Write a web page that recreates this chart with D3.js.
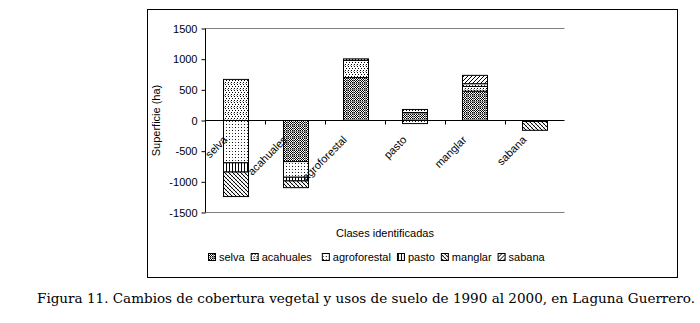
<!DOCTYPE html>
<html>
<head>
<meta charset="utf-8">
<script src="https://cdn.jsdelivr.net/npm/d3@7"></script>
<style>
  body { margin: 0; background: #fff; }
  svg { display: block; }
</style>
</head>
<body>
<div id="chart"></div>
<script>
// categories on the x axis and the stacked series (legend order)
const categories = ["selva", "acahuales", "agroforestal", "pasto", "manglar", "sabana"]
const seriesNames = ["selva", "acahuales", "agroforestal", "pasto", "manglar", "sabana"]

// values (ha) per series, one per category
const selvaVals        = [0, -670, 700, 130, 478, 0]
const acahualesVals    = [670, 0, 280, 50, 77, 0]
const agroforestalVals = [-690, -255, 0, -50, 45, 0]
const pastoVals        = [-150, -60, 25, 0, 0, -15]
const manglarVals      = [-400, -110, 0, 0, 0, -145]
const sabanaVals       = [0, 0, 0, 0, 136, 0]

const yTicks = [-1500, -1000, -500, 0, 500, 1000, 1500]

const seriesValues = [selvaVals, acahualesVals, agroforestalVals, pastoVals, manglarVals, sabanaVals]
const rows = categories.map((c, i) => {
    const r = {cat: c}
    seriesNames.forEach((s, j) => r[s] = seriesValues[j][i])
    return r
})

const W = 700, H = 323
const plot = {left: 205.5, right: 564.5, top: 28.5, bottom: 212.5}
const font = "'Liberation Sans', Arial, sans-serif"

const svg = d3.select("#chart").append("svg")
    .attr("width", W).attr("height", H)

// Patterns
const defs = svg.append("defs")
function pat(id, w, h, draw) {
    const p = defs.append("pattern").attr("id", id)
        .attr("patternUnits", "userSpaceOnUse")
        .attr("width", w).attr("height", h)
    p.append("rect").attr("width", w).attr("height", h).attr("fill", "#fff")
    draw(p)
}
function dots(p, pts, color) {
    pts.forEach(([x, y]) => p.append("rect").attr("x", x).attr("y", y)
        .attr("width", 1).attr("height", 1).attr("fill", color))
}

// selva: dense checker with grey grid
pat("p-selva", 6, 6, p => {
    const pts = []
    for (let y = 0; y < 6; y++) for (let x = 0; x < 6; x++) if ((x + y) % 2 == 0) pts.push([x, y])
    dots(p, pts, "#000")
    p.append("rect").attr("x", 0).attr("y", 5).attr("width", 6).attr("height", 1).attr("fill", "#8a8a8a")
    p.append("rect").attr("x", 5).attr("y", 0).attr("width", 1).attr("height", 6).attr("fill", "#8a8a8a")
})
// acahuales: fine dots with a few grey ones
pat("p-acahuales", 6, 6, p => {
    dots(p, [[0,0],[3,0],[1,2],[4,2],[0,4],[3,4]], "#000")
    dots(p, [[2,5],[5,5]], "#aaa")
})
// agroforestal: sparse dots
pat("p-agroforestal", 6, 6, p => {
    dots(p, [[1,1],[4,4]], "#000")
    dots(p, [[4,1],[1,4]], "#555")
})
// pasto: vertical lines
pat("p-pasto", 3, 3, p => {
    p.append("rect").attr("x", 1).attr("y", 0).attr("width", 1).attr("height", 3).attr("fill", "#000")
})
// manglar: back diagonal with grey cross
pat("p-manglar", 4, 4, p => {
    p.append("path").attr("d", "M0,0L4,4M-1,3L1,5M3,-1L5,1")
        .attr("stroke", "#000").attr("stroke-width", 1)
    p.append("path").attr("d", "M0,4L4,0")
        .attr("stroke", "#aaa").attr("stroke-width", 0.6)
})
// sabana: forward diagonal
pat("p-sabana", 4, 4, p => {
    p.append("path").attr("d", "M0,4L4,0M-1,1L1,-1M3,5L5,3")
        .attr("stroke", "#000").attr("stroke-width", 1)
})

// Chart frame
svg.append("rect")
    .attr("x", 147.5).attr("y", 9.5).attr("width", 530).attr("height", 268)
    .attr("fill", "none").attr("stroke", "#000").attr("stroke-width", 1)

const x = d3.scaleBand()
    .domain(categories)
    .range([plot.left, plot.right])
    .paddingInner(0.58).paddingOuter(0.29)

const y = d3.scaleLinear()
    .domain([-1500, 1500])
    .range([plot.bottom, plot.top])

// border lines of plot area
svg.append("line")
    .attr("x1", plot.left).attr("x2", plot.right)
    .attr("y1", y(1500)).attr("y2", y(1500))
    .attr("stroke", "#808080")
svg.append("line")
    .attr("x1", plot.left).attr("x2", plot.right)
    .attr("y1", y(-1500)).attr("y2", y(-1500))
    .attr("stroke", "#808080")

// Stacked bars
const stacked = d3.stack()
    .keys(seriesNames)
    .offset(d3.stackOffsetDiverging)(rows)

svg.append("g").selectAll("g")
    .data(stacked)
    .enter().append("g")
    .attr("fill", d => `url(#p-${d.key})`)
    .selectAll("rect")
    .data(d => d.filter(s => s[1] - s[0] != 0))
    .enter().append("rect")
    .attr("x", d => Math.round(x(d.data.cat)) + 0.5)
    .attr("width", Math.round(x.bandwidth()))
    .attr("y", d => y(Math.max(d[0], d[1])))
    .attr("height", d => Math.abs(y(d[0]) - y(d[1])))
    .attr("stroke", "#000").attr("stroke-width", 1)

// Category labels
svg.append("g").selectAll("text")
    .data(categories)
    .enter().append("text")
    .attr("transform", d => `translate(${x(d) + x.bandwidth() / 2 - 7.5},${y(0) + 20}) rotate(-45)`)
    .attr("text-anchor", "end")
    .style("font-family", font)
    .style("font-size", "11px")
    .text(d => d)

// Y axis
const yAxis = d3.axisLeft(y)
    .tickValues(yTicks)
    .tickSize(4)
    .tickFormat(d => String(d))
const gy = svg.append("g")
    .attr("transform", `translate(${plot.left},0)`)
    .call(yAxis)
gy.select(".domain").attr("stroke", "#000").attr("d", `M0,${plot.top}V${plot.bottom}`)
gy.selectAll(".tick line").attr("stroke", "#000")
gy.selectAll(".tick text")
    .attr("x", -8)
    .style("font-family", font)
    .style("font-size", "11px")
    .attr("fill", "#000")

// Zero line with category separator ticks
svg.append("line")
    .attr("x1", plot.left).attr("x2", plot.right)
    .attr("y1", y(0)).attr("y2", y(0))
    .attr("stroke", "#000")
svg.append("g").selectAll("line")
    .data(categories.slice(1))
    .enter().append("line")
    .attr("x1", d => Math.round(x(d) - x.step() * x.paddingInner() / 2) + 0.5)
    .attr("x2", d => Math.round(x(d) - x.step() * x.paddingInner() / 2) + 0.5)
    .attr("y1", y(0)).attr("y2", y(0) + 4)
    .attr("stroke", "#000")

// Axis titles
svg.append("text")
    .attr("transform", `translate(160,${y(0)}) rotate(-90)`)
    .attr("text-anchor", "middle")
    .style("font-family", font)
    .style("font-size", "11px")
    .text("Superficie (ha)")

svg.append("text")
    .attr("x", 385).attr("y", 237)
    .attr("text-anchor", "middle")
    .style("font-family", font)
    .style("font-size", "11px")
    .text("Clases identificadas")

// Legend
const legend = svg.append("g").attr("transform", "translate(208,258)")
let lx = 0
seriesNames.forEach((s, i) => {
    const g = legend.append("g").attr("transform", `translate(${lx},0)`)
    g.append("rect")
        .attr("x", 0.5).attr("y", -4.5).attr("width", 7).attr("height", 7)
        .attr("fill", `url(#p-${s})`).attr("stroke", "#000")
    const t = g.append("text")
        .attr("x", 11).attr("y", 3)
        .style("font-family", font)
        .style("font-size", "11px")
        .text(s)
    lx += 11 + t.node().getComputedTextLength() + (s == "acahuales" ? 10 : 6)
})

// Caption
svg.append("text")
    .attr("x", 37).attr("y", 303)
    .attr("textLength", 658).attr("lengthAdjust", "spacingAndGlyphs")
    .style("font-family", "'DejaVu Serif', serif")
    .style("font-size", "12.5px")
    .text("Figura 11. Cambios de cobertura vegetal y usos de suelo de 1990 al 2000, en Laguna Guerrero.")
</script>
</body>
</html>
